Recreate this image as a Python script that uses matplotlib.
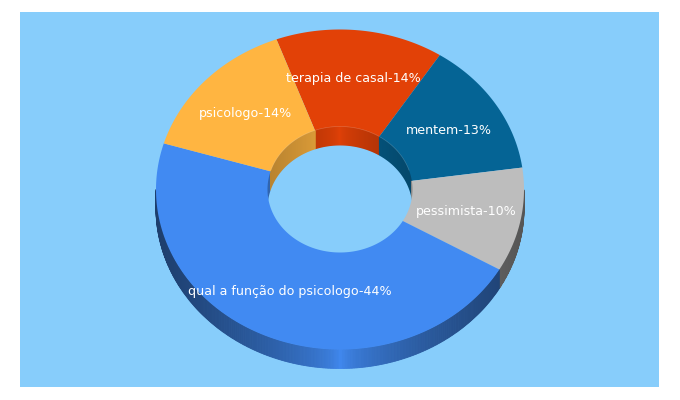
import numpy as np
import matplotlib
matplotlib.use('Agg')
import matplotlib.pyplot as plt
from matplotlib.patches import Polygon, Rectangle

labels = ['terapia de casal', 'mentem', 'pessimista', 'qual a função do psicologo', 'psicologo']
values = [14, 13, 10, 44, 14]
colors = ['#e24107', '#056495', '#bdbdbd', '#418af2', '#ffb541']
bg = '#87cdfb'

# layout in pixels
cx, cy = 340, 189.5
rx, ry = 184, 160
hole_rx, hole_ry = 72.5, 63
depth = 19
start = -20.2
text_xy = [(353.5, 78.5), (448.5, 130), (466, 211), (289.5, 291), (246, 113)]


def pt(a, x_r, y_r, dy=0):
    a = np.radians(a)
    return cx + x_r * np.sin(a), cy - y_r * np.cos(a) + dy


def shade(col, f):
    c = np.array(matplotlib.colors.to_rgb(col))
    return tuple(c * f)


def wall(a0, a1, x_r, y_r, col, f):
    quad = [pt(a0, x_r, y_r), pt(a1, x_r, y_r), pt(a1, x_r, y_r, depth), pt(a0, x_r, y_r, depth)]
    c = shade(col, f)
    ax.add_patch(Polygon(quad, fc=c, ec=c, lw=0.6))


fig = plt.figure(figsize=(6.8, 4.0), dpi=100)
ax = fig.add_axes([0, 0, 1, 1])
ax.set_xlim(0, 680)
ax.set_ylim(400, 0)
ax.axis('off')
ax.add_patch(Rectangle((20, 12), 639, 375, fc=bg, ec='none'))

angles = start + np.cumsum([0] + values) * 360.0 / sum(values)

# outer wall
for i in range(len(values)):
    for a in np.arange(angles[i], angles[i + 1], 0.5):
        if np.cos(np.radians(a)) > 0.0:
            continue
        s = abs(np.sin(np.radians(a + 0.25)))
        wall(a, min(a + 0.5, angles[i + 1]), rx, ry, colors[i], 1 - 0.55 * s ** 0.6)

# far inner wall
for i in range(len(values)):
    for a in np.arange(angles[i], angles[i + 1], 0.5):
        if np.cos(np.radians(a)) < 0.0:
            continue
        s = abs(np.sin(np.radians(a + 0.25)))
        wall(a, min(a + 0.5, angles[i + 1]), hole_rx, hole_ry, colors[i], 1 - 0.28 * s ** 0.6)

# see-through part of the hole
t = np.linspace(0, 2 * np.pi, 300)
ax.add_patch(Polygon(np.column_stack([cx + hole_rx * np.cos(t), cy + depth + hole_ry * np.sin(t)]),
                     fc=bg, ec='none'))

# top face
for i in range(len(values)):
    t = np.linspace(angles[i], angles[i + 1], 200)
    outer = [pt(a, rx, ry) for a in t]
    inner = [pt(a, hole_rx, hole_ry) for a in t[::-1]]
    ax.add_patch(Polygon(outer + inner, fc=colors[i], ec='none', lw=0))

# faint rim on the far edge of the hole
t = np.linspace(-72, 72, 100)
rim = np.array([pt(a, hole_rx, hole_ry) for a in t])
ax.plot(rim[:, 0], rim[:, 1], color='white', lw=0.5, alpha=0.2)

for i in range(len(values)):
    ax.text(text_xy[i][0], text_xy[i][1], '%s-%d%%' % (labels[i], values[i]), color='white',
            fontsize=9.05, family='DejaVu Sans', ha='center', va='center')

fig.savefig('out.png', dpi=100)
